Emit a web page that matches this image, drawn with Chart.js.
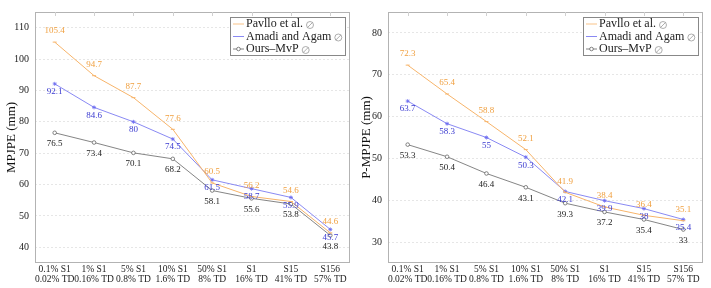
<!DOCTYPE html>
<html>
<head>
<meta charset="utf-8">
<script src="https://cdn.jsdelivr.net/npm/chart.js@4/dist/chart.umd.min.js"></script>
<style>
  html, body { margin: 0; padding: 0; background: #fff; }
  .wrap { display: flex; width: 711px; height: 288px; }
  .box { position: relative; height: 288px; }
</style>
</head>
<body>
<div class="wrap">
  <div class="box" style="width:355px"><canvas id="mpjpe"></canvas></div>
  <div class="box" style="width:356px"><canvas id="pmpjpe"></canvas></div>
</div>
<script>
// categories (two-line labels)
const categories = [
    ['0.1% S1', '0.02% TD'],
    ['1% S1', '0.16% TD'],
    ['5% S1', '0.8% TD'],
    ['10% S1', '1.6% TD'],
    ['50% S1', '8% TD'],
    ['S1', '16% TD'],
    ['S15', '41% TD'],
    ['S156', '57% TD']
];

const seriesNames = ['Pavllo et al.', 'Amadi and Agam', 'Ours\u2013MvP'];

// MPJPE (left)
const mpjpePavllo = [105.4, 94.7, 87.7, 77.6, 60.5, 56.2, 54.6, 44.6];
const mpjpeAmadi  = [92.1, 84.6, 80, 74.5, 61.5, 58.7, 55.9, 45.7];
const mpjpeOurs   = [76.5, 73.4, 70.1, 68.2, 58.1, 55.6, 53.8, 43.8];
const mpjpeTicks  = [40, 50, 60, 70, 80, 90, 100, 110];

// P-MPJPE (right)
const pmpjpePavllo = [72.3, 65.4, 58.8, 52.1, 41.9, 38.4, 36.4, 35.1];
const pmpjpeAmadi  = [63.7, 58.3, 55, 50.3, 42.1, 39.9, 38, 35.4];
const pmpjpeOurs   = [53.3, 50.4, 46.4, 43.1, 39.3, 37.2, 35.4, 33];
const pmpjpeTicks  = [30, 40, 50, 60, 70, 80];

const FONT = '"Liberation Serif", "DejaVu Serif", serif';

// frame + small inward ticks at top
const framePlugin = {
    id: 'frame',
    afterDraw(chart) {
        const { ctx, chartArea: a } = chart;
        const xs = chart.scales.x;
        ctx.save();
        ctx.strokeStyle = '#b3b3b3';
        ctx.lineWidth = 1;
        ctx.strokeRect(a.left + 0.5, a.top + 0.5, a.right - a.left - 1, a.bottom - a.top - 1);
        ctx.strokeStyle = '#d0d0d0';
        for (let i = 0; i < xs.ticks.length; i++) {
            const x = Math.round(xs.getPixelForTick(i)) + 0.5;
            ctx.beginPath();
            ctx.moveTo(x, a.top);
            ctx.lineTo(x, a.top + 4);
            ctx.stroke();
        }
        ctx.restore();
    }
};

// value labels next to each point
const valueLabels = {
    id: 'valueLabels',
    afterDatasetsDraw(chart) {
        const ctx = chart.ctx;
        ctx.save();
        ctx.font = '9px ' + FONT;
        ctx.textAlign = 'center';
        ctx.textBaseline = 'middle';
        chart.data.datasets.forEach((ds, i) => {
            const meta = chart.getDatasetMeta(i);
            ctx.fillStyle = ds.labelColor;
            meta.data.forEach((pt, j) => {
                ctx.fillText(String(ds.data[j]), pt.x, pt.y + ds.labelDy);
            });
        });
        ctx.restore();
    }
};

// pgfplots-like legend box in the top right corner
const legendBox = {
    id: 'legendBox',
    afterDraw(chart) {
        const { ctx, chartArea: a } = chart;
        const w = 115, h = 38;
        const x0 = a.right - w - 5, y0 = a.top + 5;
        ctx.save();
        ctx.fillStyle = '#fff';
        ctx.fillRect(x0, y0, w, h);
        ctx.strokeStyle = '#888';
        ctx.lineWidth = 1;
        ctx.strokeRect(x0 + 0.5, y0 + 0.5, w, h);
        ctx.font = '12px ' + FONT;
        ctx.textBaseline = 'middle';
        chart.data.datasets.forEach((ds, i) => {
            const y = y0 + 7 + i * 12.5;
            ctx.strokeStyle = ds.borderColor;
            ctx.lineWidth = 0.8;
            ctx.beginPath();
            ctx.moveTo(x0 + 3, y);
            ctx.lineTo(x0 + 14, y);
            ctx.stroke();
            if (ds.pointStyle === 'circle') {
                ctx.fillStyle = '#fff';
                ctx.beginPath();
                ctx.arc(x0 + 8.5, y, 1.8, 0, Math.PI * 2);
                ctx.fill();
                ctx.stroke();
            }
            ctx.fillStyle = '#222';
            ctx.fillText(ds.label, x0 + 16, y);
            const tw = ctx.measureText(ds.label).width;
            // the ⊘ sign in light grey
            const cx = x0 + 16 + tw + 7, r = 3.5;
            ctx.strokeStyle = '#999';
            ctx.lineWidth = 0.8;
            ctx.beginPath();
            ctx.arc(cx, y + 1, r, 0, Math.PI * 2);
            ctx.moveTo(cx - r * 0.75, y + 1 + r * 0.75);
            ctx.lineTo(cx + r * 0.75, y + 1 - r * 0.75);
            ctx.stroke();
        });
        ctx.restore();
    }
};

function makeChart(id, pav, ama, ours, ticks, min, max, title, yWidth, pad) {
    const ctx = document.getElementById(id).getContext('2d');
    return new Chart(ctx, {
        type: 'line',
        data: {
            labels: categories,
            datasets: [{
                label: seriesNames[0],
                data: pav,
                borderColor: '#f7b46a',
                backgroundColor: '#f7b46a',
                pointStyle: 'line',
                pointRadius: 2,
                borderWidth: 1,
                labelColor: '#f0a040',
                labelDy: -11
            }, {
                label: seriesNames[1],
                data: ama,
                borderColor: '#6b6bf0',
                backgroundColor: '#6b6bf0',
                pointStyle: 'star',
                pointRadius: 2,
                borderWidth: 0.8,
                labelColor: '#3a3ad0',
                labelDy: 8
            }, {
                label: seriesNames[2],
                data: ours,
                borderColor: '#666',
                backgroundColor: '#fff',
                pointStyle: 'circle',
                pointRadius: 1.8,
                pointBorderWidth: 0.8,
                borderWidth: 0.8,
                labelColor: '#222',
                labelDy: 11
            }]
        },
        options: {
            responsive: true,
            maintainAspectRatio: false,
            animation: false,
            layout: { padding: pad },
            plugins: {
                legend: { display: false },
                tooltip: { enabled: false }
            },
            scales: {
                x: {
                    offset: true,
                    grid: { display: false, drawTicks: false },
                    border: { display: false },
                    afterFit(s) { s.height = 25; },
                    ticks: {
                        font: { family: FONT, size: 9.5, lineHeight: 1.05 },
                        color: '#222',
                        padding: 2,
                        maxRotation: 0,
                        autoSkip: false
                    }
                },
                y: {
                    min: min,
                    max: max,
                    afterBuildTicks(s) { s.ticks = ticks.map(v => ({ value: v })); },
                    afterFit(s) { s.width = yWidth; },
                    grid: { color: '#e6e6e6', drawTicks: false },
                    border: { display: false, dash: [2, 2] },
                    ticks: {
                        font: { family: FONT, size: 10 },
                        color: '#222',
                        padding: 6
                    },
                    title: {
                        display: true,
                        text: title,
                        font: { family: FONT, size: 13 },
                        color: '#111',
                        padding: { top: 4, bottom: 0 }
                    }
                }
            }
        },
        plugins: [framePlugin, valueLabels, legendBox]
    });
}

makeChart('mpjpe', mpjpePavllo, mpjpeAmadi, mpjpeOurs, mpjpeTicks, 35, 115,
    'MPJPE (mm)', 35, { top: 5, right: 5, left: 0, bottom: 0 });
makeChart('pmpjpe', pmpjpePavllo, pmpjpeAmadi, pmpjpeOurs, pmpjpeTicks, 25, 85,
    'P-MPJPE (mm)', 33, { top: 5, right: 8, left: 0, bottom: 0 });
</script>
</body>
</html>
